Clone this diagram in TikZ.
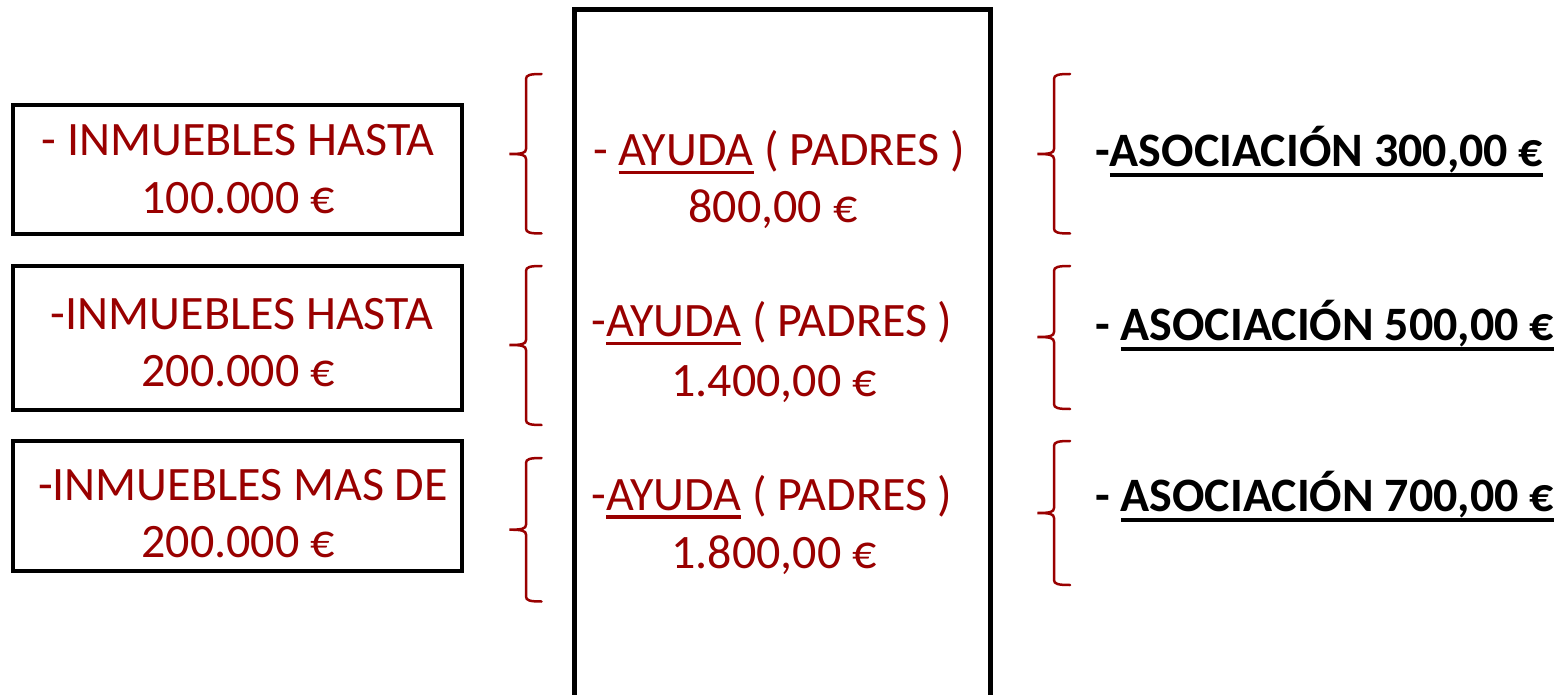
\documentclass[tikz,border=0pt]{standalone}
\usepackage{fontspec}
\setmainfont{Carlito}
\definecolor{dred}{RGB}{153,0,0}
\newcommand\ulred[1]{\setbox0=\hbox{#1}\rlap{\vrule height -5pt depth 8.5pt width \wd0}\box0\relax}
\newcommand\ulblk[1]{\setbox0=\hbox{#1}\rlap{\vrule height -6.5pt depth 10.5pt width \wd0}\box0\relax}
% brace: x of tip, x of stem, x of ends, top y, tip y, bottom y
\newcommand\mybrace[6]{%
  \draw[bracestyle] (#3,#4) .. controls (#2+4,#4) and (#2,#4+1) .. (#2,#4+5)
    -- (#2,#5-5) .. controls (#2,#5-1) and (#2-4,#5) .. (#1,#5)
    .. controls (#2-4,#5) and (#2,#5+1) .. (#2,#5+5)
    -- (#2,#6-5) .. controls (#2,#6-1) and (#2+4,#6) .. (#3,#6);}
\begin{document}
\begin{tikzpicture}[x=1pt,y=-1pt,
  box/.style={draw=black,line width=4pt,inner sep=0pt},
  redtxt/.style={text=dred,font=\fontsize{48}{58}\selectfont,inner sep=0pt,anchor=base},
  asotxt/.style={text=black,font=\fontsize{48}{58}\selectfont\bfseries,inner sep=0pt,anchor=base west},
  bracestyle/.style={draw=dred,line width=2.5pt,line cap=round}]
\useasboundingbox (0,0) rectangle (1564,695);
\fill[white] (0,0) rectangle (1564,695);
\begin{scope}
\clip (0,0) rectangle (1564,695);
\node[draw=black,line width=5pt,minimum width=416pt,minimum height=740pt,inner sep=0pt] (main) at (782,380) {};
\end{scope}
% left boxes
\node[box,minimum width=449pt,minimum height=129pt] (b1) at (237.5,169.5) {};
\node[box,minimum width=449pt,minimum height=144pt] (b2) at (237.5,338) {};
\node[box,minimum width=449pt,minimum height=130pt] (b3) at (237.5,506) {};
\node[redtxt] (b1a) at (238,156) {- INMUEBLES HASTA};
\node[redtxt] (b1b) at (238,213.3) {100.000 €};
\node[redtxt] (b2a) at (242,329) {-INMUEBLES HASTA};
\node[redtxt] (b2b) at (238,386) {200.000 €};
\node[redtxt] (b3a) at (243,500.7) {-INMUEBLES MAS DE};
\node[redtxt] (b3b) at (238,557.7) {200.000 €};
% center texts
\node[redtxt] (c1a) at (779,165.7) {- \ulred{AYUDA} ( PADRES )};
\node[redtxt] (c1b) at (773,222.3) {800,00 €};
\node[redtxt] (c2a) at (772,336.7) {-\ulred{AYUDA} ( PADRES )};
\node[redtxt] (c2b) at (774,396) {1.400,00 €};
\node[redtxt] (c3a) at (772,510) {-\ulred{AYUDA} ( PADRES )};
\node[redtxt] (c3b) at (774,568.7) {1.800,00 €};
% right texts
\node[asotxt] (r1) at (1095,167) {-\ulblk{ASOCIACIÓN 300,00 €}};
\node[asotxt] (r2) at (1095,340.7) {- \ulblk{ASOCIACIÓN 500,00 €}};
\node[asotxt] (r3) at (1095,511.7) {- \ulblk{ASOCIACIÓN 700,00 €}};
% braces
\mybrace{509.5}{526}{541.5}{74}{154}{233.5}
\mybrace{509.5}{526}{541.5}{266}{345}{425}
\mybrace{509.5}{526}{541.5}{458}{529.7}{601.5}
\mybrace{1037.5}{1054}{1070}{74}{154}{233.5}
\mybrace{1037.5}{1054}{1070}{266}{337}{409}
\mybrace{1037.5}{1054}{1070}{441}{513}{585}
\end{tikzpicture}
\end{document}
